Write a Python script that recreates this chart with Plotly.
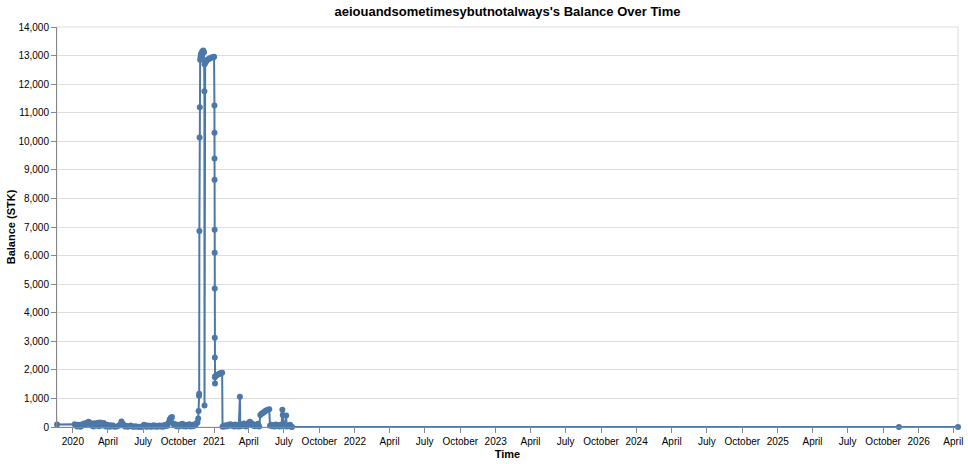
import pandas as pd
import plotly.graph_objects as go

title = "aeiouandsometimesybutnotalways's Balance Over Time"

# balance snapshots (date, STK)
dates = [
    "2019-11-21", "2020-01-06", "2020-01-09", "2020-01-12", "2020-01-15", "2020-01-18",
    "2020-01-21", "2020-01-24", "2020-01-27", "2020-01-30", "2020-02-02", "2020-02-05",
    "2020-02-08", "2020-02-11", "2020-02-14", "2020-02-17", "2020-02-20", "2020-02-23",
    "2020-02-26", "2020-02-29", "2020-03-03", "2020-03-06", "2020-03-09", "2020-03-12",
    "2020-03-15", "2020-03-18", "2020-03-21", "2020-03-24", "2020-03-27", "2020-03-30",
    "2020-04-02", "2020-04-05", "2020-04-08", "2020-04-11", "2020-04-14", "2020-04-18",
    "2020-04-24", "2020-04-29", "2020-05-03", "2020-05-06", "2020-05-09", "2020-05-12",
    "2020-05-15", "2020-05-18", "2020-05-22", "2020-05-26", "2020-05-30", "2020-06-03",
    "2020-06-07", "2020-06-11", "2020-06-15", "2020-06-20", "2020-06-26", "2020-07-01",
    "2020-07-04", "2020-07-07", "2020-07-10", "2020-07-13", "2020-07-16", "2020-07-19",
    "2020-07-22", "2020-07-25", "2020-07-28", "2020-07-31", "2020-08-03", "2020-08-06",
    "2020-08-09", "2020-08-12", "2020-08-15", "2020-08-18", "2020-08-21", "2020-08-24",
    "2020-08-27", "2020-08-30", "2020-09-02", "2020-09-05", "2020-09-08", "2020-09-11",
    "2020-09-14", "2020-09-17", "2020-09-20", "2020-09-23", "2020-09-26", "2020-09-29",
    "2020-10-02", "2020-10-05", "2020-10-08", "2020-10-11", "2020-10-14", "2020-10-17",
    "2020-10-20", "2020-10-23", "2020-10-26", "2020-10-29", "2020-11-01", "2020-11-04",
    "2020-11-07", "2020-11-10", "2020-11-13", "2020-11-16", "2020-11-19", "2020-11-21",
    "2020-11-22", "2020-11-23", "2020-11-23 12:00", "2020-11-24", "2020-11-24 12:00",
    "2020-11-25", "2020-11-26", "2020-11-27", "2020-11-28", "2020-11-30", "2020-12-02",
    "2020-12-04", "2020-12-06", "2020-12-07", "2020-12-07 06:00", "2020-12-07 12:00",
    "2020-12-09", "2020-12-12", "2020-12-15", "2020-12-18", "2020-12-21", "2020-12-24",
    "2020-12-28", "2020-12-31", "2021-01-01", "2021-01-02", "2021-01-02 03:00",
    "2021-01-02 06:00", "2021-01-02 09:00", "2021-01-02 12:00", "2021-01-02 15:00",
    "2021-01-02 18:00", "2021-01-02 21:00", "2021-01-03", "2021-01-03 06:00",
    "2021-01-03 12:00", "2021-01-04", "2021-01-07", "2021-01-10", "2021-01-13",
    "2021-01-16", "2021-01-19", "2021-01-22", "2021-01-23", "2021-01-26", "2021-01-29",
    "2021-02-01", "2021-02-04", "2021-02-07", "2021-02-10", "2021-02-13", "2021-02-16",
    "2021-02-19", "2021-02-22", "2021-02-25", "2021-02-28", "2021-03-03", "2021-03-06",
    "2021-03-09", "2021-03-10", "2021-03-13", "2021-03-16", "2021-03-19", "2021-03-22",
    "2021-03-25", "2021-03-28", "2021-04-01", "2021-04-04", "2021-04-07", "2021-04-10",
    "2021-04-13", "2021-04-16", "2021-04-19", "2021-04-22", "2021-04-25", "2021-04-28",
    "2021-05-01", "2021-05-04", "2021-05-07", "2021-05-10", "2021-05-13", "2021-05-16",
    "2021-05-20", "2021-05-24", "2021-05-26", "2021-05-29", "2021-06-01", "2021-06-04",
    "2021-06-07", "2021-06-10", "2021-06-13", "2021-06-16", "2021-06-19", "2021-06-22",
    "2021-06-25", "2021-06-27", "2021-06-28", "2021-06-30", "2021-07-03", "2021-07-07",
    "2021-07-08", "2021-07-11", "2021-07-14", "2021-07-17", "2021-07-20", "2021-07-22",
    "2025-11-11", "2026-04-13",
]
balance = [
    90, 100, 60, 20, 80, 40,
    10, 90, 50, 120, 70, 140,
    160, 180, 150, 60, 110, 20,
    130, 40, 90, 150, 30, 160,
    120, 50, 140, 70, 20, 80,
    40, 10, 60, 30, 50, 10,
    20, 40, 90, 190, 120, 60,
    20, 40, 10, 30, 50, 20,
    10, 30, 5, 10, 0, 40,
    80, 30, 10, 50, 20, 40,
    10, 30, 60, 20, 40, 10,
    30, 50, 20, 40, 10, 60,
    30, 80, 40, 150, 260, 320,
    350, 120, 60, 100, 30, 70,
    20, 90, 40, 110, 30, 60,
    15, 80, 40, 100, 20, 70,
    30, 90, 50, 120, 160, 300,
    560, 1090, 1160, 6860, 10130,
    11190, 12850, 12950, 13050, 13100, 13150,
    13180, 13120, 11750, 750, 12700,
    12750, 12800, 12850, 12880, 12900, 12920,
    12940, 12950, 12960, 11250, 10300,
    9400, 8650, 6900, 6100,
    4850, 3120, 2430, 1740,
    1520, 1780, 1810, 1830, 1850,
    1870, 1890, 1900, 10, 40, 20,
    60, 30, 80, 50, 100, 40,
    70, 20, 90, 30, 60, 20,
    1060, 30, 80, 40, 120, 60,
    20, 90, 150, 180, 140, 60,
    100, 30, 80, 40, 110, 20,
    420, 460, 490, 520, 550, 580,
    600, 620, 40, 80, 30, 70,
    20, 90, 40, 60, 20, 80,
    30, 600, 420, 40, 70, 400,
    20, 60, 30, 80, 20, 0,
    0, 0,
]

# quarterly axis ticks, year shown at January
tick_dates = pd.date_range("2020-01-01", "2026-04-01", freq="QS")
tick_text = [str(d.year) if d.month == 1 else d.strftime("%B") for d in tick_dates]
y_ticks = list(range(0, 14001, 1000))

blue = "#4c78a8"
font_family = "Liberation Sans, Arial, sans-serif"

fig = go.Figure()
fig.add_trace(go.Scatter(
    x=pd.to_datetime(dates, format="ISO8601"), y=balance, mode="lines+markers",
    line=dict(color=blue, width=2),
    marker=dict(color=blue, size=6),
    cliponaxis=False, showlegend=False,
))

# light view border like the original
fig.add_shape(type="rect", xref="paper", yref="paper", x0=0, x1=1, y0=0, y1=1,
              line=dict(color="#dddddd", width=1), layer="below")

fig.update_layout(
    width=968, height=464,
    margin=dict(l=57, r=10, t=27, b=37),
    paper_bgcolor="white", plot_bgcolor="white",
    font=dict(family=font_family, size=10, color="#000"),
    title=dict(text=title, x=0.5, xref="paper", y=1 - 11 / 464, yref="container",
               yanchor="middle", font=dict(size=13, weight="bold", color="#000")),
)
fig.update_xaxes(
    range=["2019-11-21", "2026-04-13"],
    tickvals=tick_dates, ticktext=tick_text,
    showgrid=False, zeroline=False,
    showline=True, linecolor="#888888", linewidth=1,
    ticks="outside", ticklen=5, tickcolor="#888888",
    tickfont=dict(size=10),
    title=dict(text="Time", font=dict(size=11, weight="bold"), standoff=4),
    automargin=False,
)
fig.update_yaxes(
    range=[0, 14000],
    tickvals=y_ticks, tickformat=",",
    showgrid=True, gridcolor="#dddddd", gridwidth=1, zeroline=False,
    showline=True, linecolor="#888888", linewidth=1,
    ticks="outside", ticklen=5, tickcolor="#888888",
    tickfont=dict(size=10),
    title=dict(text="Balance (STK)", font=dict(size=11, weight="bold"), standoff=0),
    automargin=False,
)

# drop the default page margin so the figure sits at the window corner
fig.write_html("out.html", config={"displayModeBar": False},
               post_script="document.body.style.margin = '0';")
